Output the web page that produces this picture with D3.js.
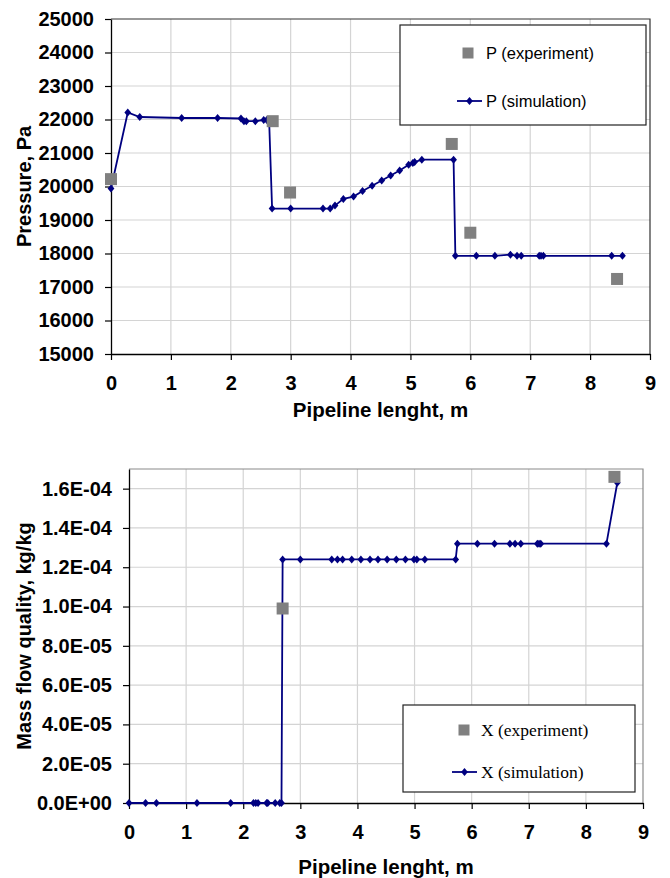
<!DOCTYPE html>
<html lang="en">
<head>
  <meta charset="UTF-8">
  <title>Pressure and mass flow quality along the pipeline</title>
  <script src="https://d3js.org/d3.v7.min.js"></script>
  <style>
    body { margin: 0; background: #fff; }
    text { font-family: "Liberation Sans", Arial, sans-serif; }
  </style>
</head>
<body>
  <div id="chart"></div>

  <script>
    // --- Data ---
    const xTicks = [0, 1, 2, 3, 4, 5, 6, 7, 8, 9];
    const pTicks = [15000, 16000, 17000, 18000, 19000, 20000, 21000, 22000, 23000, 24000, 25000];
    const qTicks = [0, 2e-5, 4e-5, 6e-5, 8e-5, 1e-4, 1.2e-4, 1.4e-4, 1.6e-4];

    // pressure, experiment
    const pExpX = [0, 2.70, 2.99, 5.69, 6.00, 8.45];
    const pExpY = [20220, 21950, 19820, 21270, 18620, 17240];

    // pressure, simulation
    const pSimX = [0, 0.28, 0.48, 1.18, 1.78, 2.17, 2.22, 2.26, 2.41, 2.55, 2.60, 2.64,
                   2.69, 3.0, 3.54, 3.66,
                   3.74, 3.88, 4.05, 4.20, 4.36, 4.52, 4.67, 4.82, 4.97, 5.04, 5.07, 5.19, 5.72,
                   5.75, 6.10, 6.41, 6.67, 6.78, 6.85, 7.15, 7.18, 7.22, 8.36, 8.54];
    const pSimY = [19940, 22210, 22075, 22045, 22045, 22030, 21950, 21950, 21950, 21985, 21985, 21985,
                   19340, 19340, 19340, 19340,
                   19430, 19630, 19700, 19865, 20025, 20180, 20330, 20480, 20650, 20700, 20730, 20800, 20800,
                   17930, 17930, 17930, 17965, 17930, 17930, 17930, 17930, 17930, 17930, 17930];

    // mass flow quality, experiment
    const qExpX = [2.69, 8.50];
    const qExpY = [9.9e-5, 1.66e-4];

    // mass flow quality, simulation
    const qSimX = [0, 0.29, 0.48, 1.19, 1.78, 2.18, 2.22, 2.26, 2.41, 2.43, 2.56, 2.64, 2.67,
                   2.69, 3.0, 3.55, 3.65, 3.74, 3.90, 4.06, 4.22, 4.36, 4.52, 4.68, 4.84, 4.99, 5.04, 5.18, 5.72,
                   5.75, 6.10, 6.40, 6.67, 6.76, 6.86, 7.15, 7.18, 7.21, 8.36,
                   8.55];
    const qSimY = [0, 0, 0, 0, 0, 0, 0, 0, 0, 0, 0, 0, 0,
                   1.24e-4, 1.24e-4, 1.24e-4, 1.24e-4, 1.24e-4, 1.24e-4, 1.24e-4, 1.24e-4,
                   1.24e-4, 1.24e-4, 1.24e-4, 1.24e-4, 1.24e-4, 1.24e-4, 1.24e-4, 1.24e-4,
                   1.32e-4, 1.32e-4, 1.32e-4, 1.32e-4, 1.32e-4, 1.32e-4, 1.32e-4, 1.32e-4, 1.32e-4, 1.32e-4,
                   1.63e-4];

    const lineColor = "#000080";
    const expColor = "#808080";
    const gridColor = "#d4d4d4";

    const svg = d3.select("#chart").append("svg")
      .attr("width", 670)
      .attr("height", 878);

    // Excel style scientific labels: 1.6E-04
    const sciFormat = (d) => {
      const parts = d.toExponential(1).split("e");
      const sign = parts[1][0];
      const digits = parts[1].slice(1).padStart(2, "0");
      return parts[0] + "E" + sign + digits;
    };

    const diamond = "M0,-4L3.4,0L0,4L-3.4,0Z";

    function drawChart(cfg) {
      const g = svg.append("g");
      const x = d3.scaleLinear().domain([0, 9]).range([cfg.left, cfg.right]);
      const y = d3.scaleLinear().domain(cfg.yDomain).range([cfg.bottom, cfg.top]);

      // gridlines
      g.append("g").selectAll("line")
        .data(xTicks.slice(1, -1))
        .join("line")
        .attr("x1", (d) => x(d)).attr("x2", (d) => x(d))
        .attr("y1", cfg.top).attr("y2", cfg.bottom)
        .attr("stroke", gridColor).attr("stroke-width", 1.2);

      g.append("g").selectAll("line")
        .data(cfg.yTicks.filter((d) => d > cfg.yDomain[0] && d < cfg.yDomain[1]))
        .join("line")
        .attr("x1", cfg.left).attr("x2", cfg.right)
        .attr("y1", (d) => y(d)).attr("y2", (d) => y(d))
        .attr("stroke", gridColor).attr("stroke-width", 1.2);

      // plot frame (top/right)
      g.append("path")
        .attr("d", `M${cfg.left},${cfg.top}H${cfg.right}V${cfg.bottom}`)
        .attr("fill", "none")
        .attr("stroke", cfg.frameColor)
        .attr("stroke-width", 1.2);

      // axes
      const xAxis = g.append("g")
        .attr("transform", `translate(0,${cfg.bottom})`)
        .call(d3.axisBottom(x).tickValues(xTicks).tickSize(6).tickSizeOuter(0).tickPadding(16));
      const yAxis = g.append("g")
        .attr("transform", `translate(${cfg.left},0)`)
        .call(d3.axisLeft(y).tickValues(cfg.yTicks).tickFormat(cfg.yFormat).tickSize(6).tickSizeOuter(0).tickPadding(11));

      [xAxis, yAxis].forEach((a) => {
        a.select(".domain").attr("stroke", "#000").attr("stroke-width", 1.3);
        a.selectAll(".tick line").attr("stroke", "#000").attr("stroke-width", 1.2);
        a.selectAll(".tick text")
          .attr("fill", "#000")
          .style("font-family", '"Liberation Sans", Arial, sans-serif')
          .style("font-size", "20px")
          .style("font-weight", "bold");
      });

      // axis titles
      g.append("text")
        .attr("x", (cfg.left + cfg.right) / 2)
        .attr("y", cfg.xTitleY)
        .attr("text-anchor", "middle")
        .attr("dominant-baseline", "central")
        .style("font-size", "20.5px").style("font-weight", "bold")
        .text("Pipeline lenght, m");

      g.append("text")
        .attr("transform", `translate(${cfg.yTitleX},${(cfg.top + cfg.bottom) / 2}) rotate(-90)`)
        .attr("text-anchor", "middle")
        .attr("dominant-baseline", "central")
        .style("font-size", "20px").style("font-weight", "bold")
        .text(cfg.yTitle);

      // simulation line + diamonds
      const sim = cfg.simX.map((v, i) => [v, cfg.simY[i]]);
      const line = d3.line().x((d) => x(d[0])).y((d) => y(d[1]));
      g.append("path")
        .datum(sim)
        .attr("fill", "none")
        .attr("stroke", lineColor)
        .attr("stroke-width", 1.8)
        .attr("d", line);

      g.append("g").selectAll("path")
        .data(sim)
        .join("path")
        .attr("transform", (d) => `translate(${x(d[0])},${y(d[1])})`)
        .attr("d", diamond)
        .attr("fill", lineColor);

      // experiment squares
      const exp = cfg.expX.map((v, i) => [v, cfg.expY[i]]);
      g.append("g").selectAll("rect")
        .data(exp)
        .join("rect")
        .attr("x", (d) => x(d[0]) - 6)
        .attr("y", (d) => y(d[1]) - 6)
        .attr("width", 12)
        .attr("height", 12)
        .attr("fill", expColor);

      // legend
      const lg = cfg.legend;
      const leg = g.append("g");
      leg.append("rect")
        .attr("x", lg.x).attr("y", lg.y)
        .attr("width", lg.w).attr("height", lg.h)
        .attr("fill", "#fff")
        .attr("stroke", "#222")
        .attr("stroke-width", 1.2);

      leg.append("rect")
        .attr("x", lg.markX - 5.5).attr("y", lg.row1 - 5.5)
        .attr("width", 11).attr("height", 11)
        .attr("fill", expColor);

      leg.append("line")
        .attr("x1", lg.lineX1).attr("x2", lg.lineX2)
        .attr("y1", lg.row2).attr("y2", lg.row2)
        .attr("stroke", lineColor).attr("stroke-width", 1.8);
      leg.append("path")
        .attr("transform", `translate(${(lg.lineX1 + lg.lineX2) / 2},${lg.row2})`)
        .attr("d", diamond)
        .attr("fill", lineColor);

      [[lg.row1, lg.labels[0]], [lg.row2, lg.labels[1]]].forEach(([yy, label]) => {
        leg.append("text")
          .attr("x", lg.textX)
          .attr("y", yy)
          .attr("dominant-baseline", "central")
          .style("font-family", lg.font)
          .style("font-size", lg.fontSize)
          .text(label);
      });
    }

    drawChart({
      left: 111, right: 650, top: 19, bottom: 354,
      yDomain: [15000, 25000], yTicks: pTicks, yFormat: d3.format("d"),
      frameColor: "#333",
      xTitleY: 409, yTitleX: 24, yTitle: "Pressure, Pa",
      simX: pSimX, simY: pSimY, expX: pExpX, expY: pExpY,
      legend: {
        x: 400, y: 25, w: 246, h: 100,
        row1: 53, row2: 101, markX: 468, lineX1: 457, lineX2: 482, textX: 486,
        labels: ["P (experiment)", "P (simulation)"],
        font: '"Liberation Sans", Arial, sans-serif', fontSize: "16.5px"
      }
    });

    drawChart({
      left: 129, right: 643, top: 469, bottom: 803,
      yDomain: [0, 1.7e-4], yTicks: qTicks, yFormat: sciFormat,
      frameColor: "#8a8a8a",
      xTitleY: 866, yTitleX: 24, yTitle: "Mass flow quality, kg/kg",
      simX: qSimX, simY: qSimY, expX: qExpX, expY: qExpY,
      legend: {
        x: 403, y: 705, w: 232, h: 87,
        row1: 730, row2: 772, markX: 464, lineX1: 452, lineX2: 477, textX: 481,
        labels: ["X (experiment)", "X (simulation)"],
        font: '"Liberation Serif", "Times New Roman", serif', fontSize: "17.5px"
      }
    });
  </script>
</body>
</html>
